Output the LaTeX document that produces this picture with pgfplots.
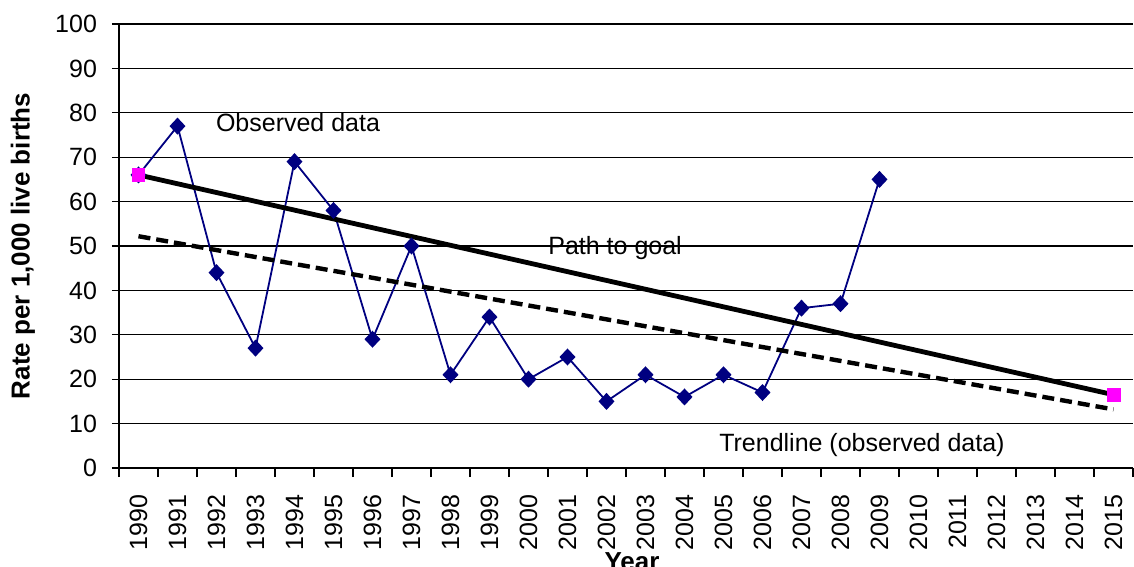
\documentclass[border=0pt]{standalone}
\usepackage{fontspec}
\setmainfont{Liberation Sans}
\usepackage{pgfplots}
\pgfplotsset{compat=1.18}
\definecolor{navy}{RGB}{0,0,128}
\definecolor{pinkm}{RGB}{255,0,255}
\begin{document}
\begin{tikzpicture}
\begin{axis}[
  scale only axis, width=507pt, height=222pt,
  xmin=-0.5, xmax=25.5, ymin=0, ymax=100,
  axis lines=left, axis line style={-, black, line width=0.7pt},
  ytick={0,10,...,100},
  ymajorgrids, major grid style={black, line width=0.6pt},
  xtick={0,...,25},
  xticklabels={1990,1991,1992,1993,1994,1995,1996,1997,1998,1999,2000,2001,2002,2003,2004,2005,2006,2007,2008,2009,2010,2011,2012,2013,2014,2015},
  minor xtick={-0.5,0.5,...,25.5},
  tick align=outside,
  major tick length=3.5pt, minor tick length=4.5pt,
  tick style={black, line width=0.6pt},
  major x tick style={draw=none},
  /pgf/number format/assume math mode=true,
  ticklabel style={font=\fontsize{12.5}{14}\selectfont},
  xticklabel style={rotate=90, anchor=east},
  xticklabel shift=6.5pt,
  yticklabel shift=4pt,
  clip=false,
]
\addplot[navy, line width=0.9pt, mark=diamond*, mark size=3.6pt, mark options={navy, xscale=1.25}]
  coordinates {(0,66)(1,77)(2,44)(3,27)(4,69)(5,58)(6,29)(7,50)(8,21)(9,34)(10,20)(11,25)(12,15)(13,21)(14,16)(15,21)(16,17)(17,36)(18,37)(19,65)};
\addplot[black, line width=2.2pt, dash pattern=on 6pt off 3pt]
  coordinates {(0,52.2)(25,13.2)};
\addplot[black, line width=2.4pt, mark=square*, mark size=3.2pt, mark options={pinkm, draw=pinkm, solid, line width=0.4pt}]
  coordinates {(0,66)(25,16.5)};
\node[font=\fontsize{12.5}{14}\selectfont, anchor=base] at (axis cs:4.09,75.7) {Observed data};
\node[font=\fontsize{12.5}{14}\selectfont, anchor=base] at (axis cs:12.22,48.0) {Path to goal};
\node[font=\fontsize{12.5}{14}\selectfont, anchor=center] at (axis cs:18.55,5.2) {Trendline (observed data)};
\node[yshift=-39pt, xshift=3pt, font=\fontsize{13}{15}\selectfont\bfseries, anchor=north] at (rel axis cs:0.5,0) {Year};
\node[xshift=-48pt, font=\fontsize{13}{15}\selectfont\bfseries, rotate=90, anchor=center] at (rel axis cs:0,0.5) {Rate per 1,000 live births};
\end{axis}
\pgfresetboundingbox
\path[use as bounding box] (-59.5pt,-49.5pt) rectangle (507.5pt,234pt);
\end{tikzpicture}
\end{document}
